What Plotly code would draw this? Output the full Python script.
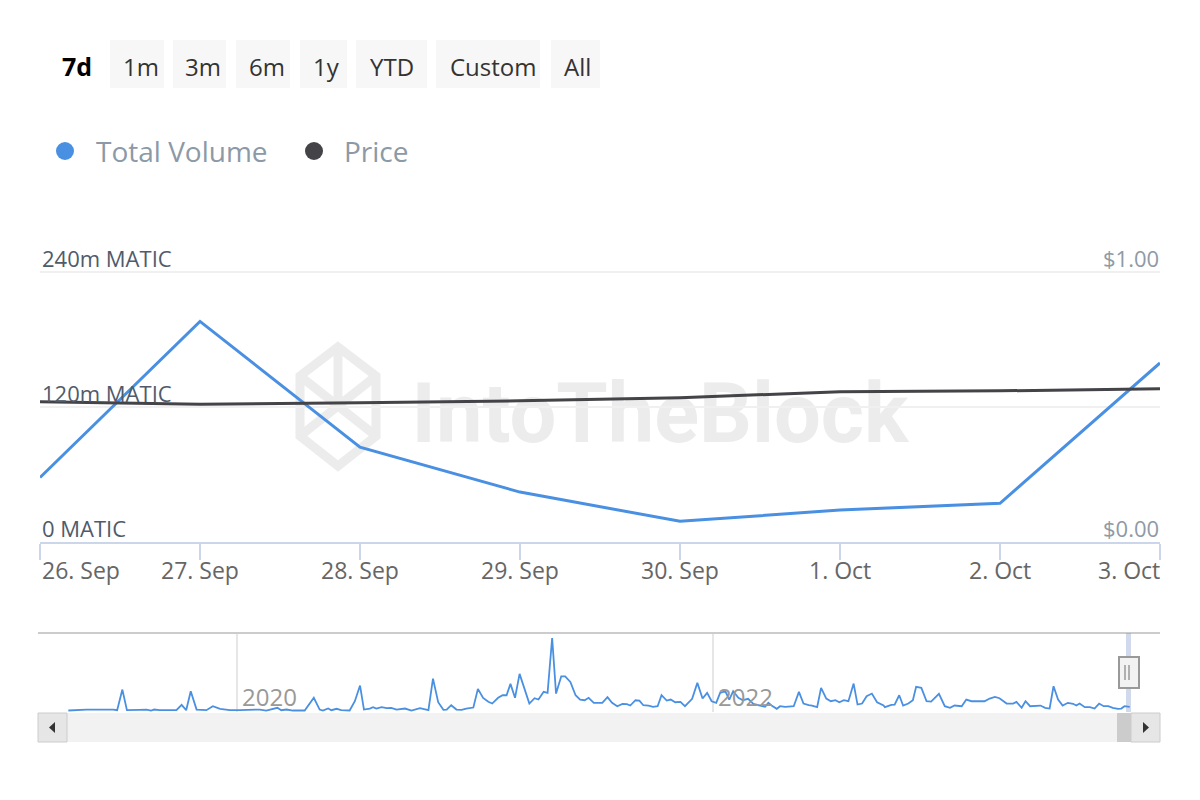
import plotly.graph_objects as go

# ---------------- data ----------------
dates = ['2023-09-26', '2023-09-27', '2023-09-28', '2023-09-29',
         '2023-09-30', '2023-10-01', '2023-10-02', '2023-10-03']
tick_labels = ['26. Sep', '27. Sep', '28. Sep', '29. Sep',
               '30. Sep', '1. Oct', '2. Oct', '3. Oct']
total_volume_m = [57, 196, 84, 44, 18, 28, 34, 159]
price_usd = [0.519, 0.509, 0.515, 0.522, 0.533, 0.556, 0.559, 0.567]

vol_tickvals = [0, 120, 240]
vol_ticktext = ['0 MATIC', '120m MATIC', '240m MATIC']
price_tickvals = [0, 1]
price_ticktext = ['$0.00', '$1.00']

nav_dates = [
    '2019-04-17', '2019-05-15', '2019-06-25', '2019-07-01', '2019-07-09', '2019-07-16', '2019-08-04',
    '2019-08-15', '2019-08-22', '2019-08-27', '2019-09-04', '2019-09-30', '2019-10-08', '2019-10-15',
    '2019-10-22', '2019-10-31', '2019-11-15', '2019-11-25', '2019-12-06', '2019-12-21', '2020-01-05',
    '2020-02-05', '2020-02-15', '2020-03-03', '2020-03-09', '2020-03-17', '2020-03-27', '2020-04-14',
    '2020-04-28', '2020-05-07', '2020-05-12', '2020-05-20', '2020-05-25', '2020-06-02', '2020-06-09',
    '2020-06-22', '2020-06-30', '2020-07-08', '2020-07-14', '2020-07-23', '2020-07-28', '2020-08-02',
    '2020-08-10', '2020-08-18', '2020-08-25', '2020-09-02', '2020-09-15', '2020-09-25', '2020-10-08',
    '2020-10-15', '2020-10-21', '2020-10-28', '2020-11-05', '2020-11-13', '2020-11-18', '2020-11-25',
    '2020-12-03', '2020-12-11', '2020-12-18', '2020-12-29', '2021-01-05', '2021-01-13', '2021-01-21',
    '2021-01-27', '2021-02-05', '2021-02-12', '2021-02-18', '2021-02-24', '2021-03-03', '2021-03-10',
    '2021-03-19', '2021-03-25', '2021-04-02', '2021-04-08', '2021-04-16', '2021-04-22', '2021-04-29',
    '2021-05-05', '2021-05-13', '2021-05-19', '2021-05-27', '2021-06-04', '2021-06-11', '2021-06-18',
    '2021-06-24', '2021-07-02', '2021-07-15', '2021-07-23', '2021-07-30', '2021-08-07', '2021-08-15',
    '2021-08-22', '2021-08-27', '2021-09-04', '2021-09-10', '2021-09-16', '2021-09-24', '2021-10-01',
    '2021-10-08', '2021-10-14', '2021-10-22', '2021-10-28', '2021-11-04', '2021-11-12', '2021-11-19',
    '2021-11-30', '2021-12-08', '2021-12-16', '2021-12-23', '2021-12-30', '2022-01-06', '2022-01-12',
    '2022-01-20', '2022-01-26', '2022-02-01', '2022-02-09', '2022-02-16', '2022-02-24', '2022-03-04',
    '2022-03-14', '2022-03-22', '2022-03-27', '2022-04-01', '2022-04-09', '2022-04-14', '2022-04-22',
    '2022-05-05', '2022-05-13', '2022-05-20', '2022-05-28', '2022-06-02', '2022-06-10', '2022-06-16',
    '2022-06-24', '2022-07-01', '2022-07-08', '2022-07-14', '2022-07-21', '2022-07-28', '2022-08-05',
    '2022-08-11', '2022-08-18', '2022-08-25', '2022-09-02', '2022-09-10', '2022-09-20', '2022-09-22',
    '2022-10-02', '2022-10-07', '2022-10-14', '2022-10-20', '2022-10-28', '2022-11-04', '2022-11-09',
    '2022-11-17', '2022-11-25', '2022-12-02', '2022-12-14', '2022-12-23', '2022-12-31', '2023-01-07',
    '2023-01-18', '2023-01-25', '2023-02-02', '2023-02-22', '2023-03-02', '2023-03-10', '2023-03-17',
    '2023-03-28', '2023-04-07', '2023-04-12', '2023-04-20', '2023-04-26', '2023-05-03', '2023-05-13',
    '2023-05-19', '2023-05-26', '2023-06-02', '2023-06-08', '2023-06-15', '2023-06-22', '2023-06-30',
    '2023-07-08', '2023-07-13', '2023-07-18', '2023-07-26', '2023-08-03', '2023-08-10', '2023-08-17',
    '2023-08-24', '2023-08-31', '2023-09-07', '2023-09-15', '2023-09-20', '2023-09-25', '2023-10-03',
]
nav_volume_m = [
    12, 37, 37, 20, 537, 20, 30,
    37, 12, 37, 20, 20, 155, 20,
    495, 37, 20, 120, 55, 20, 20,
    37, 12, 80, 20, 37, 12, 12,
    330, 37, 12, 62, 20, 55, 20,
    12, 245, 637, 37, 62, 95, 62,
    95, 70, 80, 37, 62, 12, 70,
    37, 20, 812, 220, 30, 37, 145,
    37, 30, 62, 87, 555, 330, 230,
    187, 330, 395, 395, 680, 330, 930,
    455, 187, 320, 287, 480, 455, 1830,
    437, 870, 870, 730, 395, 287, 270,
    330, 205, 205, 345, 205, 120, 180,
    170, 137, 270, 262, 145, 137, 105,
    120, 395, 262, 287, 220, 230, 120,
    305, 705, 312, 455, 245, 205, 455,
    495, 287, 495, 330, 270, 305, 180,
    137, 105, 205, 137, 55, 120, 105,
    120, 480, 187, 145, 137, 95, 580,
    312, 245, 270, 220, 270, 245, 687,
    162, 187, 370, 437, 220, 137, 95,
    155, 162, 395, 137, 187, 270, 605,
    580, 245, 237, 430, 120, 80, 137,
    120, 287, 245, 245, 312, 355, 320,
    187, 187, 230, 80, 245, 120, 137,
    137, 80, 62, 620, 287, 137, 205,
    180, 137, 187, 95, 95, 62, 187,
    120, 120, 80, 55, 62, 120, 105,
]
nav_year_ticks = ['2020-01-01', '2022-01-01']
nav_year_labels = ['2020', '2022']

range_buttons = ['7d', '1m', '3m', '6m', '1y', 'YTD', 'Custom', 'All']
series_names = ['Total Volume', 'Price']

# ---------------- styling / layout helpers ----------------
W, H = 1200, 800
ML, MR = 40, 40
BLUE = '#4a90e2'
DARK = '#434348'
FONT = 'Open Sans'
VOL_TOP = 242          # axis range top (a little headroom so the 240 gridline shows)
PRICE_TOP = VOL_TOP / 240.0


def px(x):
    return (x - ML) / (W - ML - MR)


def py(y):
    return (H - y) / H


fig = go.Figure()

fig.add_trace(go.Scatter(
    x=dates, y=total_volume_m, name=series_names[0], mode='lines',
    line=dict(color=BLUE, width=3), xaxis='x', yaxis='y'))
fig.add_trace(go.Scatter(
    x=dates, y=price_usd, name=series_names[1], mode='lines',
    line=dict(color=DARK, width=3), xaxis='x', yaxis='y2'))
fig.add_trace(go.Scatter(
    x=nav_dates, y=nav_volume_m, name='navigator', mode='lines',
    line=dict(color=BLUE, width=1.8), xaxis='x3', yaxis='y3'))

annotations = []
shapes = []

# y labels (drawn above their gridlines, inside the plot)
for v, t in zip(vol_tickvals, vol_ticktext):
    annotations.append(dict(
        x=px(40), xref='paper', y=v, yref='y', text=t, showarrow=False,
        xanchor='left', yanchor='middle', yshift=14,
        font=dict(family=FONT, size=22, color='#4f5b6b')))
for v, t in zip(price_tickvals, price_ticktext):
    annotations.append(dict(
        x=px(1161), xref='paper', y=v, yref='y2', text=t, showarrow=False,
        xanchor='right', yanchor='middle', yshift=14,
        font=dict(family=FONT, size=22, color='#8e9aa6')))

# x tick labels of main chart
for i, (d, lab) in enumerate(zip(dates, tick_labels)):
    anchor = 'center'
    if i == 0:
        anchor = 'left'
    elif i == len(dates) - 1:
        anchor = 'right'
    annotations.append(dict(
        x=d, xref='x', y=py(570), yref='paper', text=lab, showarrow=False,
        xanchor=anchor, yanchor='middle', xshift=(2 if i == len(dates) - 1 else 0),
        font=dict(family=FONT, size=23, color='#666666')))

# navigator year labels
for d, lab in zip(nav_year_ticks, nav_year_labels):
    annotations.append(dict(
        x=d, xref='x3', y=py(696), yref='paper', text=lab, showarrow=False,
        xanchor='left', yanchor='middle', xshift=3,
        font=dict(family=FONT, size=24, color='#999999')))

# range selector buttons
btn_boxes = [None, (110, 164), (173, 226), (236, 290), (300, 347),
             (356, 427), (436, 540), (551, 600)]
btn_text_x = [77, 141, 203, 267, 326, 392, 493, 577]
for lab, box, tx in zip(range_buttons, btn_boxes, btn_text_x):
    if box is None:
        annotations.append(dict(
            x=px(tx), xref='paper', y=py(66), yref='paper', text='<b>%s</b>' % lab,
            showarrow=False, xanchor='center', yanchor='middle',
            font=dict(family=FONT, size=25, color='#000000')))
        continue
    shapes.append(dict(type='rect', xref='paper', yref='paper',
                       x0=px(box[0]), x1=px(box[1]), y0=py(88), y1=py(40),
                       fillcolor='#f7f7f7', line=dict(width=0), layer='below'))
    annotations.append(dict(
        x=px(tx), xref='paper', y=py(66), yref='paper', text=lab,
        showarrow=False, xanchor='center', yanchor='middle',
        font=dict(family=FONT, size=24, color='#333333')))

# custom legend
for name, color, cx, tx in [(series_names[0], BLUE, 65, 94), (series_names[1], DARK, 314, 342)]:
    shapes.append(dict(type='circle', xref='paper', yref='paper',
                       x0=px(cx - 9), x1=px(cx + 9), y0=py(160), y1=py(142),
                       fillcolor=color, line=dict(width=0)))
    annotations.append(dict(
        x=px(tx), xref='paper', y=py(151), yref='paper', text=name, showarrow=False,
        xanchor='left', yanchor='middle',
        font=dict(family=FONT, size=28, color='#8c99a6')))

# watermark (below traces)
WM = '#ececec'
shapes.append(dict(type='rect', xref='paper', yref='paper',
                   x0=px(410), x1=px(910), y0=py(452), y1=py(362),
                   line=dict(width=0), fillcolor='rgba(0,0,0,0)', layer='below',
                   label=dict(text='IntoTheBlock', textposition='middle center',
                              font=dict(family='Roboto', size=83, color=WM, weight='bold'))))


def pth(points, close=True):
    s = 'M ' + ' L '.join('%f %f' % (px(a), py(b)) for a, b in points)
    return s + (' Z' if close else '')


hexagon = [(338, 347), (376, 376), (376, 436), (338, 466), (300, 436), (300, 376)]
for pts, cl in [(hexagon, True),
                ([(300, 376), (338, 406), (376, 376)], False),
                ([(338, 347), (338, 406)], False),
                ([(300, 436), (338, 406), (376, 436)], False)]:
    shapes.append(dict(type='path', xref='paper', yref='paper', path=pth(pts, cl),
                       line=dict(color=WM, width=9), layer='below'))

# navigator outline, selected range and handle
shapes.append(dict(type='line', xref='paper', yref='paper', x0=px(38), x1=px(1160),
                   y0=py(633), y1=py(633), line=dict(color='#cccccc', width=2)))
shapes.append(dict(type='rect', xref='paper', yref='paper', x0=px(1126), x1=px(1131),
                   y0=py(712), y1=py(633), fillcolor='rgba(102,133,194,0.3)',
                   line=dict(width=0)))
shapes.append(dict(type='rect', xref='paper', yref='paper', x0=px(1119), x1=px(1139),
                   y0=py(688), y1=py(657), fillcolor='#f2f2f2',
                   line=dict(color='#999999', width=2)))
for lx in (1125, 1129):
    shapes.append(dict(type='line', xref='paper', yref='paper', x0=px(lx), x1=px(lx),
                       y0=py(680), y1=py(665), line=dict(color='#999999', width=1.5)))

# scrollbar
shapes.append(dict(type='rect', xref='paper', yref='paper', x0=px(38), x1=px(1160),
                   y0=py(742), y1=py(713), fillcolor='#f2f2f2', line=dict(width=0)))
shapes.append(dict(type='rect', xref='paper', yref='paper', x0=px(1117), x1=px(1131),
                   y0=py(742), y1=py(713), fillcolor='#cccccc', line=dict(width=0)))
for x0, x1 in ((38, 67), (1131, 1160)):
    shapes.append(dict(type='rect', xref='paper', yref='paper', x0=px(x0), x1=px(x1),
                       y0=py(742), y1=py(713), fillcolor='#e6e6e6',
                       line=dict(color='#cccccc', width=1)))
shapes.append(dict(type='path', xref='paper', yref='paper',
                   path=pth([(49, 727.5), (55, 722), (55, 733)]),
                   fillcolor='#333333', line=dict(width=0)))
shapes.append(dict(type='path', xref='paper', yref='paper',
                   path=pth([(1149, 727.5), (1143, 722), (1143, 733)]),
                   fillcolor='#333333', line=dict(width=0)))

fig.update_layout(
    width=W, height=H,
    margin=dict(l=ML, r=MR, t=0, b=0),
    paper_bgcolor='white', plot_bgcolor='rgba(0,0,0,0)',
    showlegend=False,
    font=dict(family=FONT),
    xaxis=dict(type='date', domain=[0, 1], anchor='y',
               range=[dates[0], dates[-1]], tickvals=dates, showticklabels=False,
               ticks='outside', ticklen=16, tickwidth=2, tickcolor='#ccd6eb',
               showline=True, linecolor='#ccd6eb', linewidth=2,
               showgrid=False, zeroline=False, fixedrange=True),
    yaxis=dict(domain=[py(541.5), py(541.5 - VOL_TOP * 269.5 / 240)], range=[0, VOL_TOP],
               tickvals=vol_tickvals, showticklabels=False, ticks='',
               showgrid=True, gridcolor='#f0f0f0', gridwidth=1.5,
               zeroline=False, showline=False),
    yaxis2=dict(overlaying='y', side='right', anchor='x', range=[0, PRICE_TOP],
                tickvals=price_tickvals, showticklabels=False, ticks='',
                showgrid=False, zeroline=False, showline=False),
    xaxis3=dict(type='date', domain=[0, 1], anchor='y3',
                range=['2019-03-04 12:00', '2023-11-18 12:00'],
                tickvals=nav_year_ticks, showticklabels=False, ticks='',
                showgrid=True, gridcolor='#e6e6e6', gridwidth=1.5,
                zeroline=False, showline=False),
    yaxis3=dict(domain=[py(712), py(633)], range=[-25, 1955], visible=False),
    annotations=annotations,
    shapes=shapes,
)

fig.write_html('out.html')
